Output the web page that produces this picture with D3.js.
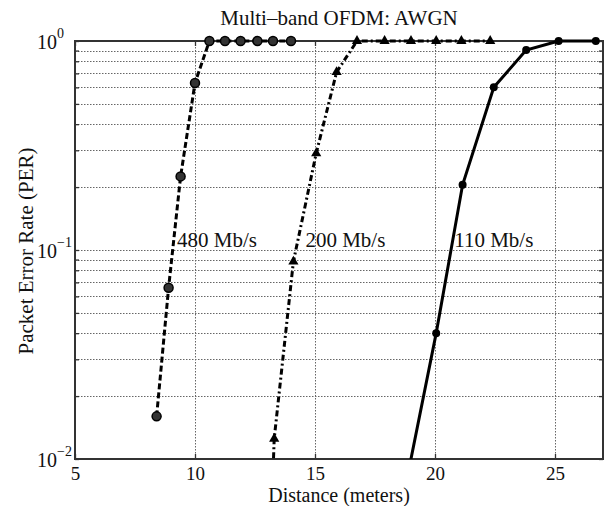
<!DOCTYPE html>
<html>
<head>
<meta charset="utf-8">
<script src="https://cdn.jsdelivr.net/npm/d3@7"></script>
<style>
  body { margin: 0; background: #fff; }
  text { font-family: "Liberation Serif", "DejaVu Serif", serif; fill: #111; }
</style>
</head>
<body>
<div id="vis"></div>
<script>
'use strict'

// distances (m) and PER per data rate
const dist480 = [8.4, 8.9, 9.4, 10.0, 10.6, 11.25, 11.9, 12.6, 13.25, 14.0]
const per480  = [0.016, 0.066, 0.225, 0.63, 1, 1, 1, 1, 1, 1]

const dist200 = [13.15, 13.3, 14.1, 15.05, 15.9, 16.75, 17.9, 19.0, 20.05, 21.1, 22.3]
const per200  = [0.004, 0.0125, 0.088, 0.29, 0.71, 1, 1, 1, 1, 1, 1]

const dist110 = [18.8, 20.05, 21.15, 22.45, 23.8, 25.15, 26.7]
const per110  = [0.0077, 0.040, 0.205, 0.60, 0.905, 1, 1]

const xTicks = [5, 10, 15, 20, 25]
const yTicks = [1e-2, 1e-1, 1]
const yExps  = ["\u22122", "\u22121", "0"]

const labels = [
  {text: "480 Mb/s", x: 9.25, y: 0.103},
  {text: "200 Mb/s", x: 14.6, y: 0.103},
  {text: "110 Mb/s", x: 20.8, y: 0.103}
]

const width = 606, height = 506
const margin = {top: 41, right: 3, bottom: 47, left: 75}
const plotW = width - margin.left - margin.right
const plotH = height - margin.top - margin.bottom

const svg = d3.select("#vis").append("svg")
  .attr("width", width)
  .attr("height", height)

const x = d3.scaleLinear().domain([5, 27]).range([margin.left, width - margin.right])
const y = d3.scaleLog().domain([1e-2, 1]).range([height - margin.bottom, margin.top])

// clip for the curves
svg.append("clipPath").attr("id", "plotclip")
  .append("rect")
    .attr("x", margin.left).attr("y", margin.top - 6)
    .attr("width", plotW)
    .attr("height", plotH + 6)

// grid
let minor = []
for (let e = -2; e < 0; e++) {
  for (let m = 2; m <= 9; m++) minor.push(m * Math.pow(10, e))
}
const gridY = minor.concat([0.1])
const grid = svg.append("g")
  .attr("stroke", "#666")
  .attr("stroke-width", 1)
  .attr("stroke-dasharray", "1.5,1.5")

grid.selectAll("line.gy")
  .data(gridY)
  .enter().append("line")
    .attr("class", "gy")
    .attr("x1", margin.left).attr("x2", width - margin.right)
    .attr("y1", d => Math.round(y(d)) + 0.5).attr("y2", d => Math.round(y(d)) + 0.5)

grid.selectAll("line.gx")
  .data(xTicks.slice(1))
  .enter().append("line")
    .attr("class", "gx")
    .attr("y1", margin.top).attr("y2", height - margin.bottom)
    .attr("x1", d => Math.round(x(d)) + 0.5).attr("x2", d => Math.round(x(d)) + 0.5)

// axes (with mirrored ticks on top and right, like a boxed plot)
function styleAxis(g) {
  g.select(".domain").remove()
  g.selectAll(".tick line").attr("stroke", "#333").attr("stroke-width", 1.3)
}

const xAxis = svg.append("g")
  .attr("transform", "translate(0," + (height - margin.bottom) + ")")
  .call(d3.axisBottom(x).tickValues(xTicks).tickSize(-5).tickFormat(d3.format("d")))
  .call(styleAxis)
xAxis.selectAll(".tick text")
  .attr("font-size", 19)
  .attr("y", 21)
  .attr("dy", 0)
  .style("font-family", "Liberation Serif")

svg.append("g")
  .attr("transform", "translate(0," + margin.top + ")")
  .call(d3.axisTop(x).tickValues(xTicks).tickSize(-5).tickFormat(""))
  .call(styleAxis)

svg.append("g")
  .attr("transform", "translate(" + margin.left + ",0)")
  .call(d3.axisLeft(y).tickValues(yTicks.concat(minor)).tickSize(-4).tickFormat(""))
  .call(styleAxis)

svg.append("g")
  .attr("transform", "translate(" + (width - margin.right) + ",0)")
  .call(d3.axisRight(y).tickValues(yTicks.concat(minor)).tickSize(-4).tickFormat(""))
  .call(styleAxis)

const yl = svg.append("g")
yl.selectAll("text")
  .data(yTicks)
  .enter().append("text")
    .attr("x", 37)
    .attr("y", d => y(d) + 8)
    .attr("font-size", 20)
    .each(function(d, i) {
      d3.select(this).append("tspan").text("10")
      d3.select(this).append("tspan")
        .attr("dy", -11)
        .attr("font-size", 14)
        .text(yExps[i])
    })

// box
svg.append("rect")
  .attr("x", margin.left).attr("y", margin.top)
  .attr("width", plotW)
  .attr("height", plotH)
  .attr("fill", "none")
  .attr("stroke", "#333")
  .attr("stroke-width", 2)

// curves
const line = d3.line()
  .x(d => x(d[0]))
  .y(d => y(d[1]))

const curves = [
  {dist: dist480, per: per480, dash: "6,3", marker: "circle"},
  {dist: dist200, per: per200, dash: "6,3,2,3", marker: "triangle"},
  {dist: dist110, per: per110, dash: null, marker: "dot"}
]

const plot = svg.append("g").attr("clip-path", "url(#plotclip)")

curves.forEach(function(c) {
  const pts = d3.zip(c.dist, c.per)
  plot.append("path")
    .datum(pts)
    .attr("d", line)
    .attr("fill", "none")
    .attr("stroke", "#000")
    .attr("stroke-width", 3)
    .attr("stroke-dasharray", c.dash)

  const shown = pts.filter(p => p[1] >= 1e-2)
  if (c.marker === "triangle") {
    plot.selectAll(null)
      .data(shown)
      .enter().append("path")
        .attr("d", d3.symbol().type(d3.symbolTriangle).size(45))
        .attr("transform", d => "translate(" + x(d[0]) + "," + y(d[1]) + ")")
        .attr("fill", "#000")
  } else {
    plot.selectAll(null)
      .data(shown)
      .enter().append("circle")
        .attr("cx", d => x(d[0]))
        .attr("cy", d => y(d[1]))
        .attr("r", c.marker === "circle" ? 4.5 : 4)
        .attr("fill", c.marker === "circle" ? "#333" : "#000")
        .attr("stroke", "#000")
        .attr("stroke-width", c.marker === "circle" ? 1.5 : 0)
  }
})

// curve labels
svg.selectAll("text.lab")
  .data(labels)
  .enter().append("text")
    .attr("class", "lab")
    .attr("x", d => x(d.x))
    .attr("y", d => y(d.y))
    .attr("font-size", 21)
    .text(d => d.text)

// titles
svg.append("text")
  .attr("x", margin.left + plotW / 2)
  .attr("y", 25)
  .attr("text-anchor", "middle")
  .attr("font-size", 21)
  .text("Multi\u2013band OFDM: AWGN")

svg.append("text")
  .attr("x", margin.left + plotW / 2)
  .attr("y", 502)
  .attr("text-anchor", "middle")
  .attr("font-size", 20)
  .text("Distance (meters)")

svg.append("text")
  .attr("transform", "translate(33,251) rotate(-90)")
  .attr("text-anchor", "middle")
  .attr("font-size", 21)
  .text("Packet Error Rate (PER)")
</script>
</body>
</html>
